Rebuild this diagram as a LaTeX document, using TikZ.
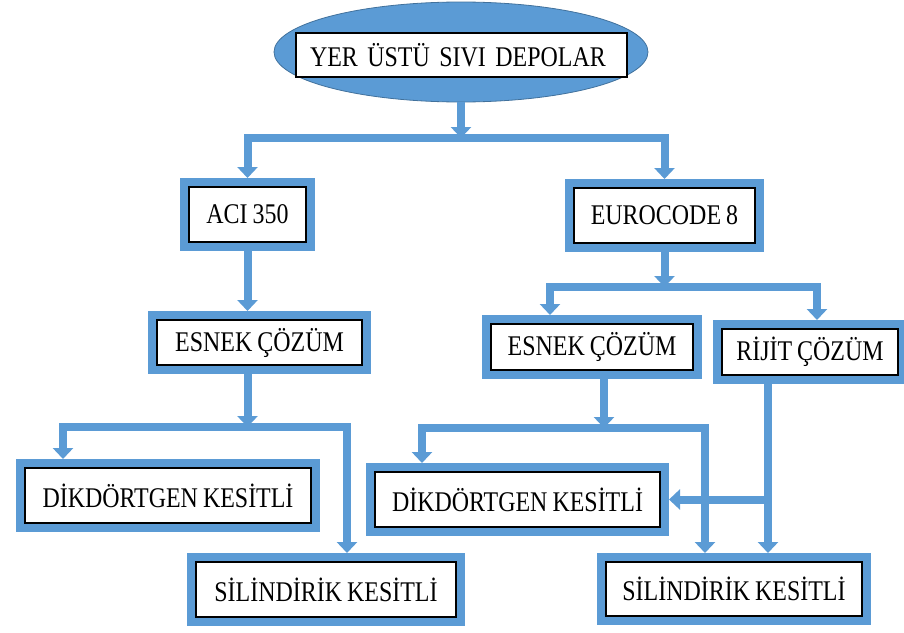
\documentclass[tikz,border=0pt]{standalone}
\usepackage{fontspec}
\setmainfont{Liberation Serif}[FakeStretch=0.84,WordSpace=0.85]
\usepackage{tikz}
\usetikzlibrary{arrows.meta,positioning,calc,shapes.geometric}
\definecolor{KutuMavi}{RGB}{91,155,213}
\definecolor{KenarMavi}{RGB}{65,113,156}

\begin{document}
\begin{tikzpicture}[x=1pt,y=-1pt,
    kutu/.style={draw=black, line width=1.2pt, fill=white, inner sep=0pt, outer sep=9pt,
      preaction={draw=KutuMavi, line width=18pt}, font=\fontsize{28.5}{32}\selectfont},
    okcizgi/.style={draw=KutuMavi, line width=8pt, -{Triangle[width=20pt,length=11pt]}}]
        \useasboundingbox (0,0) rectangle (904,632);
        \node[ellipse, fill=KutuMavi, draw=KenarMavi, line width=0.8pt, minimum width=374pt, minimum height=100pt] (depo) at (461,52) {};
        \node[draw=black, line width=1.2pt, fill=white, inner xsep=14pt, inner ysep=0pt, text width=303pt, align=left,
              minimum height=44pt, font=\fontsize{28.5}{32}\selectfont] (baslik) at (461.5,55) {YER ÜSTÜ SIVI DEPOLAR};
        \node[kutu, minimum width=117pt, minimum height=55pt] (aci) at (247.5,214.5) {ACI 350};
        \node[kutu, minimum width=181pt, minimum height=55pt] (euro) at (664.5,215.5) {EUROCODE 8};
        \node[kutu, minimum width=205pt, minimum height=45pt] (esnekA) at (259.5,342.5) {ESNEK ÇÖZÜM};
        \node[kutu, minimum width=202pt, minimum height=46pt] (esnekB) at (592,347) {ESNEK ÇÖZÜM};
        \node[kutu, minimum width=176pt, minimum height=46pt] (rijit) at (810,352) {RİJİT ÇÖZÜM};
        \node[kutu, minimum width=286pt, minimum height=55pt] (dikA) at (168,495.5) {DİKDÖRTGEN KESİTLİ};
        \node[kutu, minimum width=260pt, minimum height=55pt] (silA) at (326,589.5) {SİLİNDİRİK KESİTLİ};
        \node[kutu, minimum width=285pt, minimum height=55pt] (dikB) at (517.5,499.5) {DİKDÖRTGEN KESİTLİ};
        \node[kutu, minimum width=256pt, minimum height=54pt] (silB) at (734,589) {SİLİNDİRİK KESİTLİ};
        \coordinate (u1) at (depo.south |- 0,138);
        \draw[okcizgi] (depo.south) -- (u1);
        \draw[okcizgi] (u1) -| (aci.north);
        \draw[okcizgi] (u1) -| (euro.north);
        \draw[okcizgi] (aci.south) -- (aci.south |- esnekA.north);
        \coordinate (a1) at (aci.south |- 0,427);
        \draw[okcizgi] (esnekA.south -| aci.south) -- (a1);
        \draw[okcizgi] (a1) -| ($(dikA.north west)+(47,0)$);
        \draw[okcizgi] (a1) -| ($(silA.north)+(21,0)$);
        \coordinate (e1) at (euro.south |- 0,287);
        \draw[okcizgi] (euro.south) -- (e1);
        \draw[okcizgi] (e1) -| ($(esnekB.north)+(-42,0)$);
        \draw[okcizgi] (e1) -| ($(rijit.north)+(7,0)$);
        \coordinate (e2) at ($(esnekB.south)+(12,0)$);
        \coordinate (e3) at (e2 |- 0,428);
        \draw[okcizgi] (e2) -- (e3);
        \draw[okcizgi] (e3) -| ($(dikB.north west)+(56,0)$);
        \draw[okcizgi] (e3) -| ($(silB.north)+(-29,0)$);
        \coordinate (r1) at ($(rijit.south)+(-42,0)$);
        \draw[okcizgi] (r1) -- (r1 |- silB.north);
        \draw[okcizgi] (r1 |- dikB.east) -- (dikB.east);
      \end{tikzpicture}
\end{document}
